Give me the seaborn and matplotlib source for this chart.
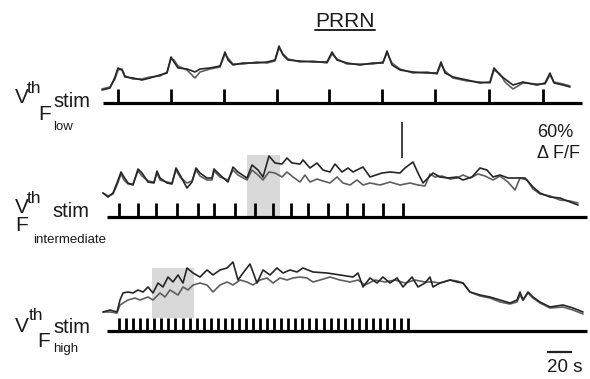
import numpy as np
import matplotlib
matplotlib.use("Agg")
import matplotlib.pyplot as plt
import seaborn as sns

sns.set_theme(style="white")
plt.rcParams['font.family'] = ['Liberation Sans', 'DejaVu Sans']

# ---------------- data (time in s, signal in % dF/F) ----------------
# Panel 1: V_th stim, F_low
low_t = [-0.8, 5.6, 9.6, 12.0, 15.2, 17.6, 24.0, 31.2, 37.6, 45.6, 51.2, 54.4, 56.8, 60.0, 67.2, 73.6,
         77.6, 85.6, 93.6, 97.6, 100.0, 104.0, 112.0, 123.2, 131.2, 137.6, 140.8, 144.0, 148.0, 157.6,
         168.0, 179.2, 183.2, 187.2, 195.2, 205.6, 216.0, 224.0, 227.2, 231.2, 237.6, 248.0, 259.2,
         267.2, 270.4, 273.6, 280.0, 291.2, 301.6, 309.6, 312.8, 317.6, 321.6, 328.0, 336.0, 347.2,
         353.6, 357.6, 360.8, 368.0, 373.6]
low_a = [0, 3.3, 21.7, 36.7, 33.3, 21.7, 20.0, 16.7, 20.0, 25.0, 28.3, 55.0, 46.7, 36.7, 35.0, 30.0,
         35.0, 36.7, 40.0, 63.3, 50.0, 41.7, 45.0, 45.0, 46.7, 50.0, 73.3, 58.3, 50.0, 48.3,
         46.7, 46.7, 63.3, 50.0, 45.0, 41.7, 45.0, 45.0, 65.0, 41.7, 33.3, 30.0, 28.3,
         28.3, 46.7, 28.3, 21.7, 16.7, 11.7, 13.3, 36.7, 25.0, 18.3, 8.3, 13.3, 8.3,
         11.7, 28.3, 11.7, 8.3, 5.0]
low_b = [1.7, 5.0, 18.3, 33.3, 35.0, 23.3, 18.3, 18.3, 21.7, 23.3, 30.0, 51.7, 50.0, 40.0, 33.3, 20.0,
         30.0, 35.0, 38.3, 60.0, 53.3, 43.3, 43.3, 46.7, 45.0, 48.3, 70.0, 60.0, 51.7, 46.7,
         48.3, 45.0, 60.0, 51.7, 43.3, 43.3, 43.3, 46.7, 61.7, 45.0, 35.0, 28.3, 30.0,
         26.7, 43.3, 31.7, 20.0, 15.0, 13.3, 11.7, 33.3, 26.7, 13.3, 1.7, 11.7, 10.0,
         10.0, 25.0, 13.3, 10.0, 6.7]
low_stim = [12.0, 54.4, 96.8, 139.2, 180.8, 223.2, 265.6, 308.8, 352.0]

# Panel 2: V_th stim, F_intermediate
mid_t_a = [0.0, 4.0, 8.0, 11.2, 14.4, 16.8, 20.0, 24.0, 28.0, 31.2, 36.0, 40.8, 43.2, 45.6, 51.2, 55.2,
           58.4, 61.6, 67.2, 71.2, 74.4, 77.6, 83.2, 87.2, 88.8, 93.6, 100.0, 104.0, 108.0, 115.2,
           119.2, 124.0, 128.0, 132.8, 137.6, 143.2, 147.2, 151.2, 157.6, 160.0, 165.6, 171.2, 176.0,
           181.6, 185.6, 191.2, 196.0, 200.0, 208.0, 213.6, 223.2, 229.6, 237.6, 241.6, 248.0, 252.0,
           256.0, 260.0, 264.0, 269.6, 276.0, 283.2, 288.0, 295.2, 301.6, 307.2, 312.0, 317.6, 324.0,
           331.2, 337.6, 344.0, 349.6, 357.6, 365.6, 373.6, 380.0]
mid_a = [0, -6.7, 0, 16.7, 35.0, 26.7, 16.7, 13.3, 40.0, 33.3, 18.3, 16.7, 36.7, 25.0, 16.7, 15.0,
         41.7, 30.0, 8.3, 18.3, 41.7, 33.3, 25.0, 25.0, 40.0, 30.0, 18.3, 43.3, 35.0, 25.0,
         46.7, 38.3, 26.7, 61.7, 50.0, 48.3, 58.3, 50.0, 48.3, 55.0, 41.7, 50.0, 38.3,
         35.0, 48.3, 35.0, 41.7, 35.0, 43.3, 26.7, 33.3, 35.0, 33.3, 41.7, 51.7, 33.3,
         16.7, 25.0, 33.3, 26.7, 25.0, 26.7, 21.7, 26.7, 41.7, 38.3, 26.7, 30.0, 25.0,
         25.0, 25.0, 10.0, 0, -6.7, -8.3, -15.0, -20.0]
mid_t_b = [0.0, 4.0, 8.0, 11.2, 14.4, 16.8, 20.0, 24.0, 28.0, 31.2, 36.0, 40.8, 43.2, 45.6, 51.2, 55.2,
           58.4, 61.6, 67.2, 71.2, 74.4, 77.6, 83.2, 87.2, 88.8, 93.6, 100.0, 104.0, 108.0, 115.2,
           119.2, 124.0, 128.0, 132.8, 137.6, 143.2, 147.2, 152.0, 157.6, 161.6, 165.6, 171.2, 176.0,
           181.6, 187.2, 192.0, 197.6, 203.2, 208.0, 213.6, 221.6, 229.6, 237.6, 245.6, 252.0, 257.6,
           261.6, 265.6, 271.2, 277.6, 283.2, 288.0, 293.6, 300.0, 305.6, 312.0, 317.6, 324.0, 329.6,
           333.6, 339.2, 344.0, 349.6, 357.6, 365.6, 373.6, 380.0]
mid_b = [0, -5.0, -1.7, 13.3, 31.7, 21.7, 15.0, 15.0, 36.7, 28.3, 20.0, 18.3, 33.3, 21.7, 18.3, 16.7,
         38.3, 26.7, 16.7, 20.0, 38.3, 28.3, 21.7, 21.7, 36.7, 26.7, 21.7, 38.3, 30.0, 21.7,
         38.3, 30.0, 21.7, 35.0, 33.3, 26.7, 35.0, 26.7, 18.3, 30.0, 18.3, 23.3, 20.0,
         16.7, 26.7, 16.7, 13.3, 21.7, 13.3, 16.7, 13.3, 18.3, 13.3, 16.7, 13.3, 11.7,
         31.7, 26.7, 28.3, 23.3, 25.0, 30.0, 25.0, 31.7, 28.3, 21.7, 28.3, 18.3, 5.0,
         25.0, 21.7, 6.7, -1.7, -5.0, -11.7, -13.3, -16.7]
mid_stim = [12.8, 28.0, 42.4, 59.2, 76.0, 88.8, 105.6, 121.6, 136.0, 150.4, 164.0, 180.0, 195.2,
            208.0, 224.0, 240.0]

# Panel 3: V_th stim, F_high
high_t_a = [0, 5.6, 11.2, 13.6, 16.0, 20.0, 24.0, 28.0, 32.0, 36.0, 40.0, 44.0, 48.0, 52.0, 56.0,
            60.0, 64.0, 67.2, 72.0, 77.6, 83.2, 88.0, 93.6, 99.2, 104.0, 108.0, 112.0, 117.6, 123.2,
            128.0, 133.6, 139.2, 144.0, 149.6, 155.2, 160.0, 168.0, 179.2, 189.6, 200.0, 204.0, 208.0,
            213.6, 219.2, 224.0, 229.6, 235.2, 240.0, 247.2, 252.0, 257.6, 261.6, 264.0, 269.6, 277.6,
            283.2, 288.0, 293.6, 301.6, 309.6, 317.6, 325.6, 331.2, 333.6, 336.0, 340.0, 344.0, 349.6,
            357.6, 368.0, 376.0, 384.0]
high_a = [0, 3.3, 0, 20.0, 31.7, 33.3, 31.7, 36.7, 33.3, 41.7, 31.7, 48.3, 41.7, 58.3, 50.0,
          61.7, 48.3, 73.3, 65.0, 58.3, 70.0, 61.7, 70.0, 73.3, 83.3, 53.3, 65.0, 80.0, 48.3,
          70.0, 61.7, 73.3, 65.0, 70.0, 66.7, 73.3, 66.7, 65.0, 61.7, 58.3, 65.0, 41.7,
          56.7, 48.3, 58.3, 48.3, 56.7, 41.7, 58.3, 41.7, 48.3, 58.3, 41.7, 48.3, 53.3,
          50.0, 48.3, 33.3, 28.3, 25.0, 20.0, 15.0, 20.0, 33.3, 20.0, 33.3, 25.0, 16.7,
          8.3, 11.7, 6.7, 0]
high_t_b = [0, 5.6, 11.2, 13.6, 20.0, 25.6, 29.6, 36.0, 40.0, 45.6, 49.6, 53.6, 60.0, 64.0, 68.0,
            72.0, 77.6, 83.2, 88.0, 93.6, 99.2, 104.0, 109.6, 115.2, 120.0, 125.6, 131.2, 136.0, 141.6,
            147.2, 152.0, 157.6, 163.2, 168.0, 173.6, 181.6, 189.6, 197.6, 204.0, 209.6, 217.6, 225.6,
            233.6, 241.6, 249.6, 257.6, 264.0, 269.6, 277.6, 283.2, 288.0, 293.6, 301.6, 309.6, 317.6,
            325.6, 331.2, 333.6, 336.0, 340.0, 344.0, 349.6, 357.6, 368.0, 376.0, 384.0]
high_b = [0, 0, -1.7, 11.7, 20.0, 23.3, 20.0, 25.0, 20.0, 31.7, 25.0, 36.7, 28.3, 41.7, 36.7,
          45.0, 48.3, 45.0, 33.3, 45.0, 50.0, 45.0, 53.3, 50.0, 45.0, 53.3, 56.7, 48.3, 56.7,
          53.3, 56.7, 58.3, 56.7, 50.0, 53.3, 58.3, 53.3, 50.0, 53.3, 45.0, 53.3, 50.0,
          53.3, 48.3, 53.3, 50.0, 50.0, 48.3, 53.3, 51.7, 48.3, 33.3, 26.7, 23.3, 16.7,
          13.3, 16.7, 28.3, 20.0, 31.7, 23.3, 15.0, 6.7, 8.3, 3.3, -3.3]
high_stim = [12.8, 18.4, 24.1, 29.7, 35.4, 41.0, 46.6, 52.3, 57.9, 63.6, 69.2, 74.8, 80.5, 86.1,
             91.8, 97.4, 103.0, 108.7, 114.3, 120.0, 125.6, 131.2, 136.9, 142.5, 148.2, 153.8,
             159.4, 165.1, 170.7, 176.4, 182.0, 187.6, 193.3, 198.9, 204.6, 210.2, 215.8, 221.5,
             227.1, 232.8, 238.4, 244.0]

# highlighted windows (s)
mid_window = [115.2, 141.6]
high_window = [39.2, 72.8]

scale_pct = 60
scale_s = 20

# ---------------- layout ----------------
W, H = 590, 379
PX_PER_S = 1.25
T0_PX = 103
PCT_PER_PX = 60 / 36


def ylev(px):
    return -px * PCT_PER_PX


def tpos(px):
    return (px - T0_PX) / PX_PER_S


fig = plt.figure(figsize=(W / 100, H / 100), dpi=100)
fig.patch.set_facecolor('white')
ax = fig.add_axes([0, 0, 1, 1])
ax.set_xlim(tpos(0), tpos(W))
ax.set_ylim(ylev(H), ylev(0))
ax.axis('off')

DARK = '#262626'
LIGHT = '#5e5e5e'

panels = [
    dict(base=90, line=103, tick_top=89, l0=0, l1=383,
         ta=low_t, a=low_a, tb=low_t, b=low_b, stim=low_stim, win=None),
    dict(base=193, line=217, tick_top=203, l0=3, l1=387,
         ta=mid_t_a, a=mid_a, tb=mid_t_b, b=mid_b, stim=mid_stim, win=(mid_window, 155, 217)),
    dict(base=312, line=331, tick_top=318, l0=3, l1=387,
         ta=high_t_a, a=high_a, tb=high_t_b, b=high_b, stim=high_stim, win=(high_window, 268, 318)),
]

for p in panels:
    off = ylev(p['base'])
    if p['win'] is not None:
        (w0, w1), top_px, bot_px = p['win']
        ax.fill_between([w0, w1], ylev(bot_px), ylev(top_px), color='#d9d9d9', lw=0, zorder=1)
    sns.lineplot(x=p['tb'], y=np.array(p['b']) + off, ax=ax, color=LIGHT, lw=1.2,
                 estimator=None, sort=False, zorder=3)
    sns.lineplot(x=p['ta'], y=np.array(p['a']) + off, ax=ax, color=DARK, lw=1.2,
                 estimator=None, sort=False, zorder=4)
    ax.hlines(ylev(p['line']), p['l0'], p['l1'], color='black', lw=2.3, zorder=5)
    ax.vlines(p['stim'], ylev(p['line']), ylev(p['tick_top']), color='black', lw=2.0, zorder=5)

# scale bars
ax.vlines(tpos(402), ylev(158), ylev(158) + scale_pct, color='#333333', lw=1.3)
ax.hlines(ylev(352), tpos(547), tpos(547) + scale_s, color='#222222', lw=1.6)


def txt(x, y, s, size, **kw):
    fig.text(x / W, 1 - y / H, s, fontsize=size, va='baseline', ha='left', color='#1a1a1a', **kw)


# title
txt(315, 27, 'PRRN', 15)
ax.plot([315 / W, 375 / W], [1 - 30 / H, 1 - 30 / H], transform=ax.transAxes, color='#222222', lw=1.4)

# labels panel 1
txt(15, 103, 'V', 15)
txt(27, 93, 'th', 12.5)
txt(53, 107, 'stim', 14.5)
txt(38, 120, 'F', 15)
txt(53, 130, 'low', 9.5)
# labels panel 2
txt(15, 213, 'V', 15)
txt(27, 203, 'th', 12.5)
txt(52, 217, 'stim', 14.5)
txt(15, 231, 'F', 15)
txt(33, 243, 'intermediate', 9.5)
# labels panel 3
txt(15, 332, 'V', 15)
txt(29, 320, 'th', 12.5)
txt(53, 333, 'stim', 14.5)
txt(37, 347, 'F', 15)
txt(53, 352, 'high', 9.5)

# scale labels
txt(537, 137, f'{scale_pct}%', 13)
txt(537, 158, '\u0394 F/F', 13)
txt(547, 372, f'{scale_s} s', 13.5)

fig.savefig('out.png', dpi=100, facecolor='white')
